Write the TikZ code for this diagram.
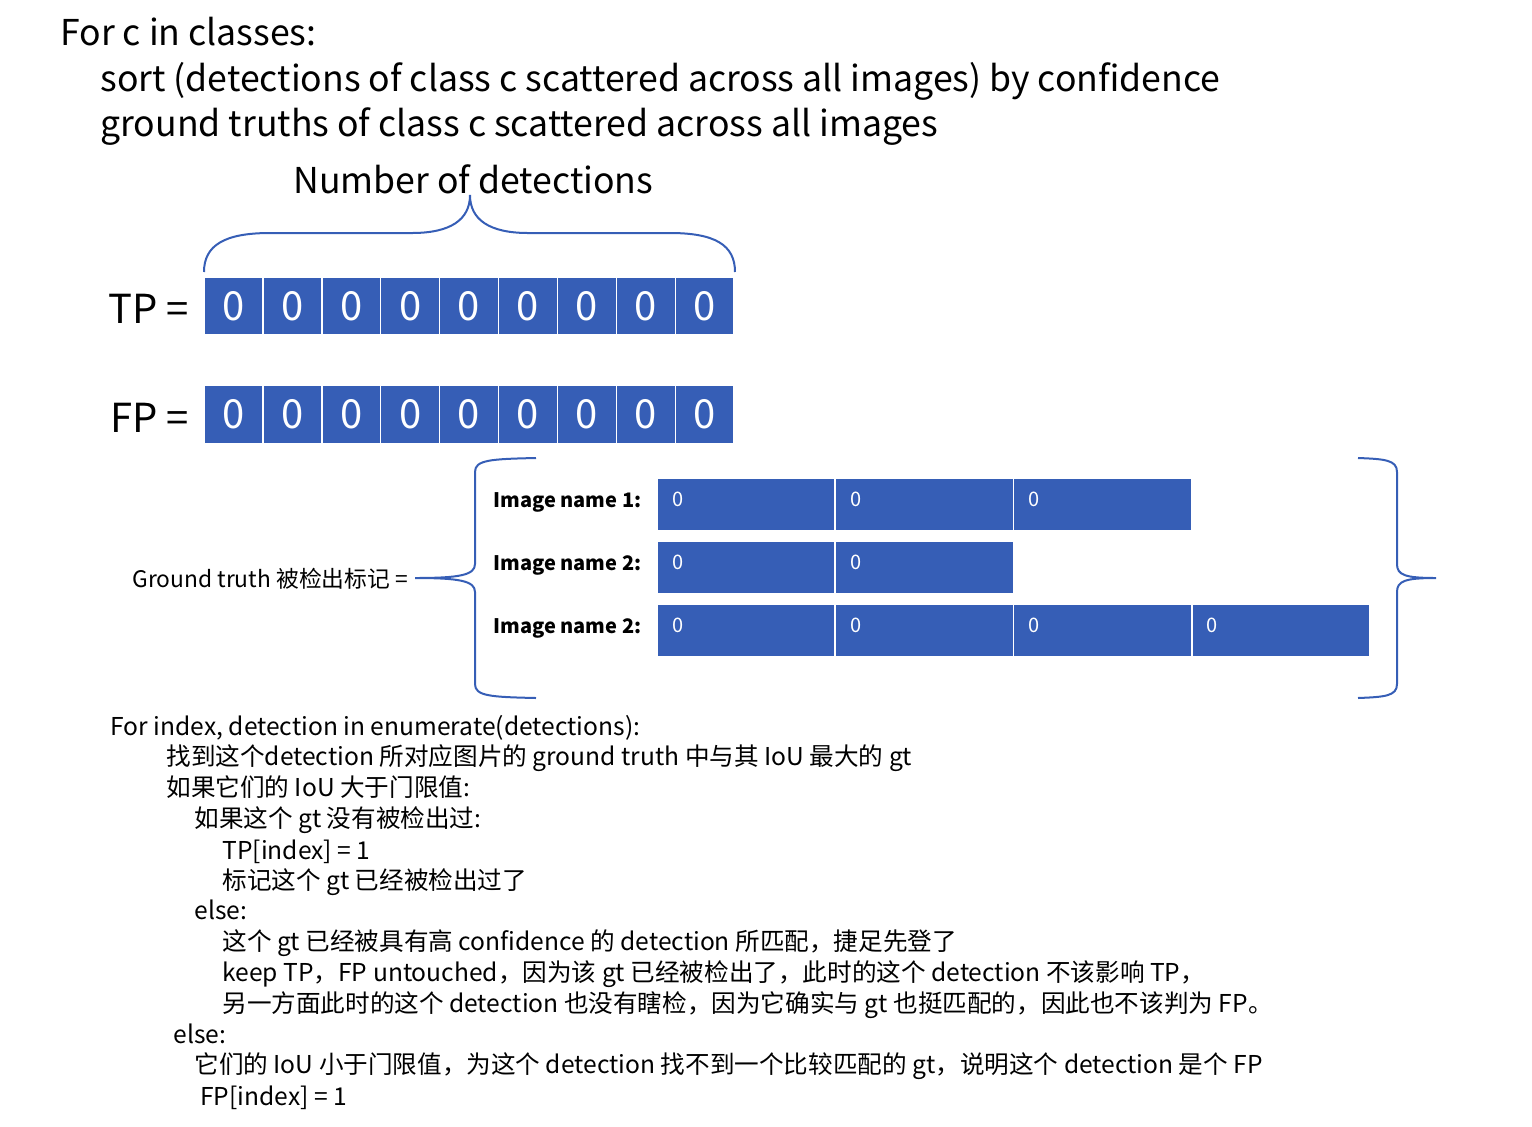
\documentclass[tikz,border=0pt]{standalone}
\usepackage{fontspec}
\setmainfont{Noto Sans CJK SC}
\usepackage{xcolor}
\usetikzlibrary{positioning}
\definecolor{cellblue}{RGB}{54,94,182}

\begin{document}
\begin{tikzpicture}[x=0.5pt,y=-0.5pt]
\tikzset{
  hd/.style={anchor=base west,inner sep=0pt,font=\fontsize{17.8pt}{21pt}\selectfont},
  lab/.style={anchor=base west,inner sep=0pt,font=\fontsize{20pt}{23pt}\selectfont},
  cd/.style={anchor=base west,inner sep=0pt,font=\fontsize{12.3pt}{14pt}\selectfont},
  bc/.style={rectangle,fill=cellblue,draw=white,line width=0.7pt,minimum width=29.45pt,minimum height=29pt,inner sep=0pt,text=white,font=\fontsize{20pt}{23pt}\selectfont},
  gc/.style={rectangle,fill=cellblue,draw=white,line width=0.7pt,inner xsep=7.5pt,inner ysep=0pt,text width=74pt,minimum height=26.5pt,text depth=5.5pt,align=left,text=white,font=\fontsize{10pt}{12pt}\selectfont},
  im/.style={anchor=base west,inner sep=0pt,font=\fontsize{10pt}{12pt}\selectfont\bfseries},
  br/.style={draw=cellblue,line width=1pt}
}
\useasboundingbox (0,0) rectangle (1532,1126);
% header
\node[hd] (t1) at (60,45) {For c in classes:};
\node[hd] (t2) at (100,91) {sort (detections of class c scattered across all images) by confidence};
\node[hd] (t3) at (100,136) {ground truths of class c scattered across all images};
\node[hd] (ndet) at (293,193) {Number of detections};
\draw[br] (204,272) .. controls (204,245) and (225,233) .. (270,233) -- (412,233)
  .. controls (450,233) and (470,220) .. (470,195)
  .. controls (470,220) and (490,233) .. (528,233) -- (670,233)
  .. controls (715,233) and (735,245) .. (735,272);
% TP / FP rows
\node[lab] (tplab) at (108,323) {TP =};
\node[lab] (fplab) at (110,432) {FP =};
\foreach \i in {0,...,8}{
  \node[bc] (tp\i) at ({233.45+58.9*\i},306) {0};
  \node[bc] (fp\i) at ({233.45+58.9*\i},414.5) {0};
}
% ground truth marks
\node[anchor=base west,inner sep=0pt,font=\fontsize{11.4pt}{13pt}\selectfont] (gtlab) at (132,587) {Ground truth 被检出标记 =};
\draw[br] (536,458) .. controls (490,459) and (475,460) .. (475,472) -- (475,564)
  .. controls (475,575) and (460,578) .. (415,578)
  .. controls (460,578) and (475,581) .. (475,592) -- (475,684)
  .. controls (475,696) and (490,697) .. (536,698);
\draw[br] (1358,458) .. controls (1385,459) and (1397,460) .. (1397,472) -- (1397,564)
  .. controls (1397,575) and (1405,578) .. (1436,578)
  .. controls (1405,578) and (1397,581) .. (1397,592) -- (1397,684)
  .. controls (1397,696) and (1385,697) .. (1358,698);
\node[im] (img1) at (493,507) {Image name 1:};
\node[im] (img2) at (493,570) {Image name 2:};
\node[im] (img3) at (493,633) {Image name 2:};
\foreach \j in {0,1,2}{\node[gc] (ga\j) at ({746+178.3*\j},504.5) {0};}
\foreach \j in {0,1}{\node[gc] (gb\j) at ({746+178.3*\j},567.5) {0};}
\foreach \j in {0,1,2,3}{\node[gc] (gd\j) at ({746+178.3*\j},630.5) {0};}
% loop over detections
\node[cd] (c1) at (110,735) {For index, detection in enumerate(detections):};
\node[cd] (c2) at (166,765) {找到这个detection 所对应图片的 ground truth 中与其 IoU 最大的 gt};
\node[cd] (c3) at (166,796) {如果它们的 IoU 大于门限值:};
\node[cd] (c4) at (194,827) {如果这个 gt 没有被检出过:};
\node[cd] (c5) at (222,859) {TP[index] = 1};
\node[cd] (c6) at (222,889) {标记这个 gt 已经被检出过了};
\node[cd] (c7) at (194,919) {else:};
\node[cd] (c8) at (222,950) {这个 gt 已经被具有高 confidence 的 detection 所匹配，捷足先登了};
\node[cd] (c9) at (222,981) {keep TP，FP untouched，因为该 gt 已经被检出了，此时的这个 detection 不该影响 TP，};
\node[cd] (c10) at (222,1012) {另一方面此时的这个 detection 也没有瞎检，因为它确实与 gt 也挺匹配的，因此也不该判为 FP。};
\node[cd] (c11) at (173,1043) {else:};
\node[cd] (c12) at (194,1073) {它们的 IoU 小于门限值，为这个 detection 找不到一个比较匹配的 gt，说明这个 detection 是个 FP};
\node[cd] (c13) at (200,1105) {FP[index] = 1};
\end{tikzpicture}
\end{document}
